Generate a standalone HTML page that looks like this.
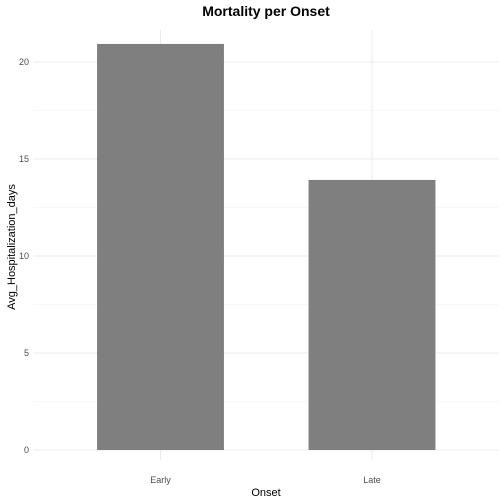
<!DOCTYPE html>
<html><head><meta charset="utf-8"><style>
body{margin:0;background:#fff;}
svg{display:block;font-family:"Liberation Sans",sans-serif;}
</style></head><body>
<svg id="chart" width="504" height="504">
<text x="266" y="16" text-anchor="middle" font-size="14" font-weight="bold" fill="#000">Mortality per Onset</text>
<g id="grid"></g>
<g id="bars"></g>
<g id="labels"></g>
<text x="266" y="496" text-anchor="middle" font-size="11" fill="#000">Onset</text>
<text transform="translate(15,247) rotate(-90)" text-anchor="middle" font-size="11" fill="#000">Avg_Hospitalization_days</text>
</svg>
<script>
const categories = ["Early","Late"];
const values = [20.93, 13.92];
const yTicks = [0,5,10,15,20];
const ns="http://www.w3.org/2000/svg";
const px0=33.6, px1=498.9, y0=450, yPerUnit=19.4;
const step=(px1-px0)/(categories.length-1+1.2);
function xS(i){return px0+step*(0.6+i);}
function yS(v){return y0-v*yPerUnit;}
const grid=document.getElementById('grid'),bars=document.getElementById('bars'),labels=document.getElementById('labels');
function mk(tag,attrs,parent){const e=document.createElementNS(ns,tag);for(const k in attrs)e.setAttribute(k,attrs[k]);parent.appendChild(e);return e;}
const yTop=30;
for(let i=0;i<yTicks.length;i++){
  if(i<yTicks.length){
    const mv=yTicks[i]+2.5;
    if(yS(mv)>yTop){const m=mk('line',{x1:px0,x2:px1,y1:yS(mv),y2:yS(mv),stroke:'#f0f0f0','stroke-width':0.5},grid);
    
    }
  }
  const l=mk('line',{x1:px0,x2:px1,y1:yS(yTicks[i]),y2:yS(yTicks[i]),stroke:'#ebebeb','stroke-width':1},grid);
  
  
  const t=mk('text',{x:29,y:yS(yTicks[i])+3,'text-anchor':'end','font-size':9,fill:'#4d4d4d'},labels);
  t.textContent=yTicks[i];
  
  
}
const bw=step*0.6;
categories.forEach((c,i)=>{
  const g=mk('line',{x1:xS(i),x2:xS(i),y1:yTop,y2:460,stroke:'#ebebeb','stroke-width':1},grid);
  
  
  const r=mk('rect',{x:xS(i)-bw/2,y:yS(values[i]),width:bw,height:y0-yS(values[i]),fill:'#7f7f7f'},bars);
  
  
  const t=mk('text',{x:xS(i),y:483,'text-anchor':'middle','font-size':9,fill:'#4d4d4d'},labels);
  t.textContent=c;
  
  
});
</script>
</body></html>
